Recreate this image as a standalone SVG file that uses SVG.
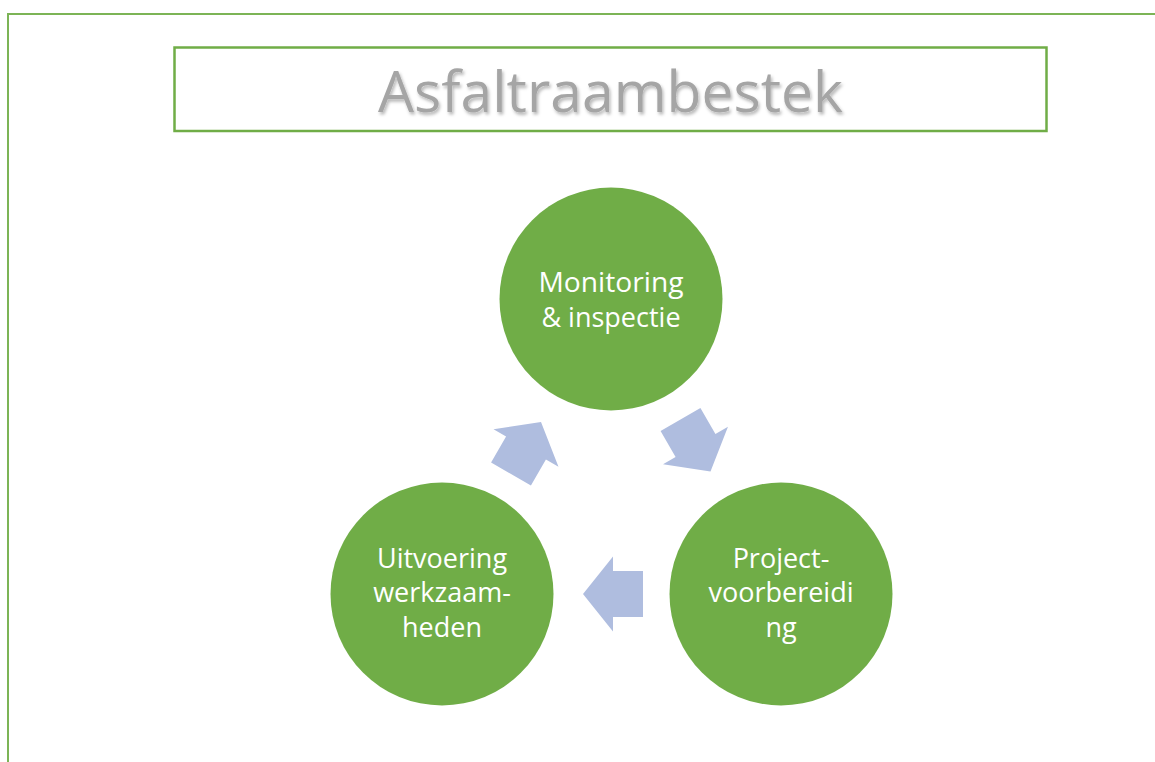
<svg xmlns="http://www.w3.org/2000/svg" width="1155" height="762" viewBox="0 0 1155 762">
<style>
.node circle{fill:#70AD47;}
.lbl{font-family:"Open Sans","Liberation Sans",sans-serif;font-size:27px;fill:#FFFFFF;text-anchor:middle;}
.arrow{fill:#AFBDDF;}
</style>
<defs>
<filter id="shadow" x="-10%" y="-30%" width="120%" height="160%">
<feDropShadow dx="1.5" dy="2.5" stdDeviation="1.5" flood-color="#000" flood-opacity="0.28"/>
</filter>
<polygon id="arr" points="30,0 0,-37.5 0,-23 -30,-23 -30,23 0,23 0,37.5"/>
</defs>
<rect x="0" y="0" width="1155" height="762" fill="#FFFFFF"/>
<g id="frame">
<rect x="8" y="14" width="1200" height="800" fill="none" stroke="#7CB456" stroke-width="2"/>
</g>
<g id="title">
<rect x="174.5" y="47.5" width="872" height="83.5" fill="#FFFFFF" stroke="#70AD47" stroke-width="2.5"/>
<text x="610.5" y="112" font-family="'Open Sans','Liberation Sans',sans-serif" font-size="56" fill="#A5A5A5" text-anchor="middle" textLength="465" lengthAdjust="spacingAndGlyphs" filter="url(#shadow)">Asfaltraambestek</text>
</g>
<g id="connectors">
<use href="#arr" class="arrow" transform="translate(526,448) rotate(-60)"/>
<use href="#arr" class="arrow" transform="translate(695.5,445.5) rotate(60)"/>
<use href="#arr" class="arrow" transform="translate(613,594) rotate(180)"/>
</g>
<g id="monitoring" class="node">
<circle cx="611" cy="299" r="111.5"/>
<text class="lbl" x="611" y="292" textLength="145" lengthAdjust="spacingAndGlyphs">Monitoring</text>
<text class="lbl" x="611" y="326.5">&amp; inspectie</text>
</g>
<g id="uitvoering" class="node">
<circle cx="442" cy="594" r="111.5"/>
<text class="lbl" x="442" y="568">Uitvoering</text>
<text class="lbl" x="442" y="602">werkzaam-</text>
<text class="lbl" x="442" y="636.5">heden</text>
</g>
<g id="projectvoorbereiding" class="node">
<circle cx="781" cy="594" r="111.5"/>
<text class="lbl" x="781" y="568">Project-</text>
<text class="lbl" x="781" y="602">voorbereidi</text>
<text class="lbl" x="781" y="636.5">ng</text>
</g>
</svg>
